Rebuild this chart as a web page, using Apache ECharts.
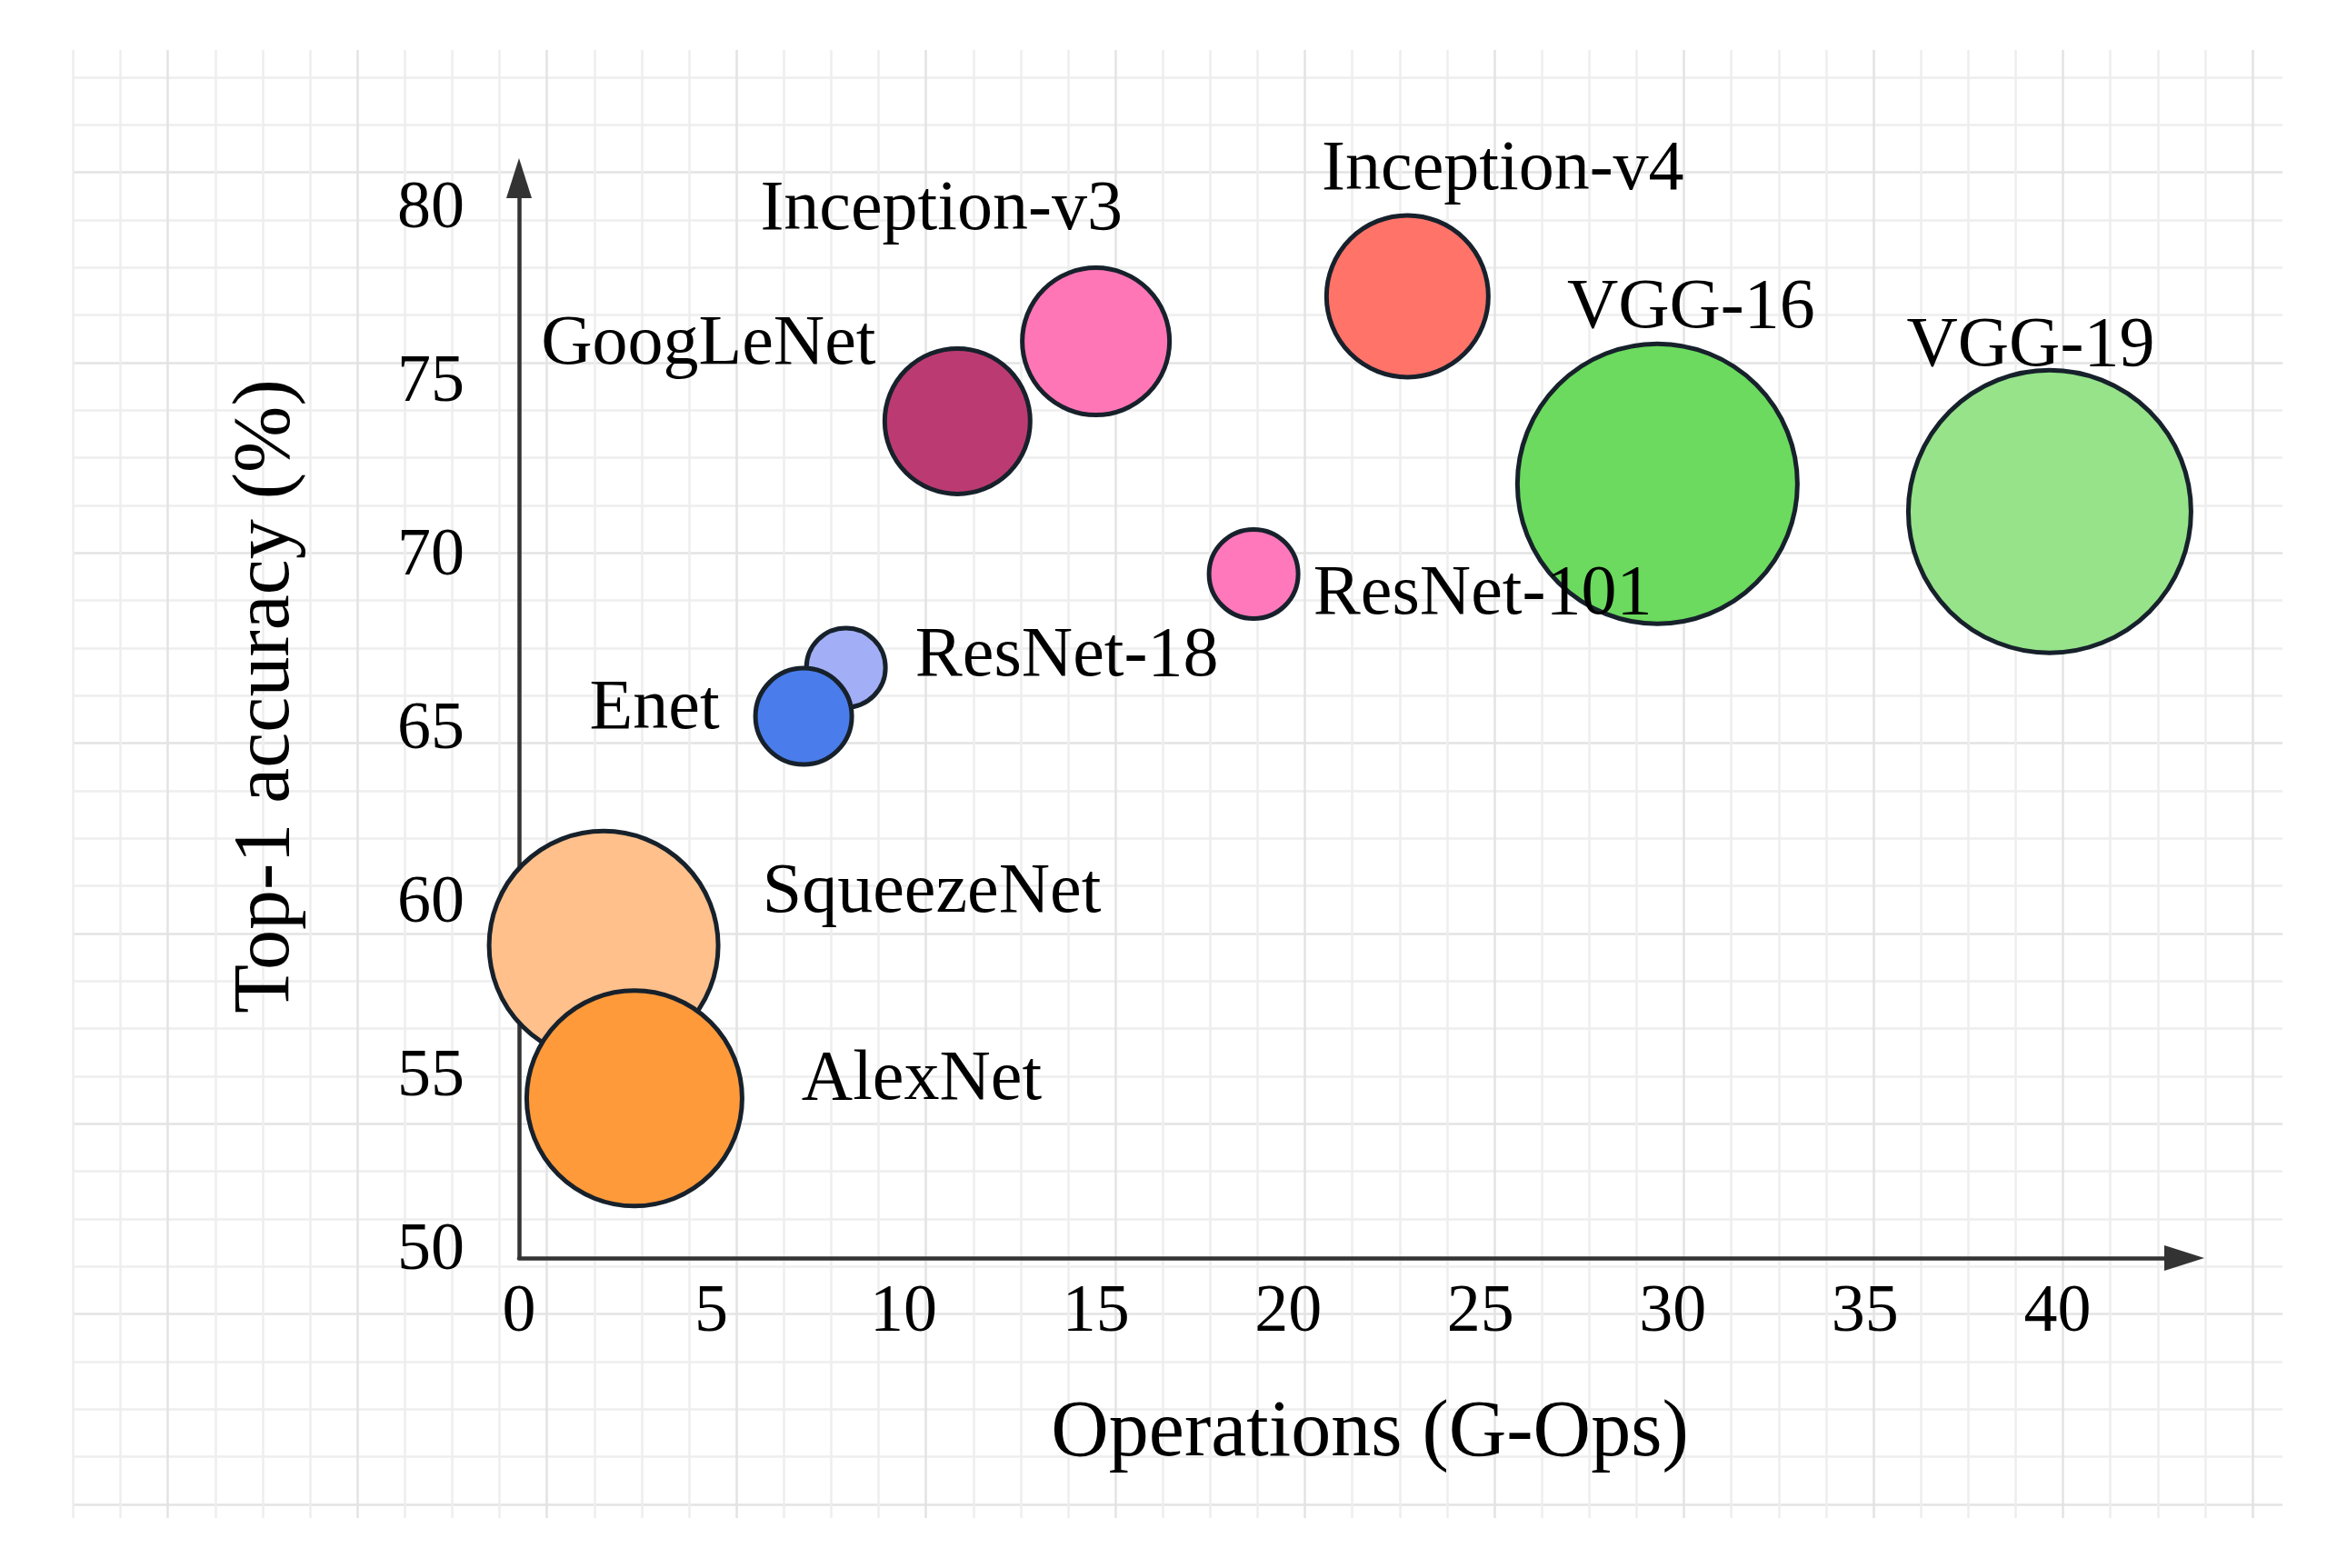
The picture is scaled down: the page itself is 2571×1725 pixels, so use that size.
<!DOCTYPE html>
<html><head><meta charset="utf-8">
<script src="https://cdn.jsdelivr.net/npm/echarts@6/dist/echarts.min.js"></script>
<style>html,body{margin:0;padding:0;background:#fff}#c{width:2571px;height:1725px}</style>
</head><body><div id="c"></div>
<script>
// ---- data ----
const models = ['SqueezeNet','AlexNet','ResNet-18','Enet','GoogLeNet','Inception-v3','ResNet-101','Inception-v4','VGG-16','VGG-19'];
const ops    = [2.2, 3.0, 8.5, 7.4, 11.4, 15.0, 19.1, 23.1, 29.6, 39.8];      // G-Ops
const top1   = [58.8, 54.4, 66.8, 65.4, 73.9, 76.2, 69.5, 77.5, 72.1, 71.3];  // %
const bubble = [25.2, 23.7, 8.7, 10.6, 16.0, 16.2, 9.8, 17.8, 30.8, 31.1];    // relative bubble size
const xTicks = [0, 5, 10, 15, 20, 25, 30, 35, 40];
const yTicks = [50, 55, 60, 65, 70, 75, 80];

// ---- styles ----
const FONT = "'Liberation Serif','Times New Roman',serif";
const fillColors = {
  'SqueezeNet':'#FFC08C','AlexNet':'#FF9A3A','ResNet-18':'#A2AEF5','Enet':'#4A7DEB',
  'GoogLeNet':'#BC3A72','Inception-v3':'#FF76B6','ResNet-101':'#FF78BC',
  'Inception-v4':'#FF7369','VGG-16':'#6BDA5E','VGG-19':'#96E38A'
};
const labelOffsets = {
  'SqueezeNet':[361,-58],'AlexNet':[316,-20],'ResNet-18':[243,-12],'Enet':[-164,-8],
  'GoogLeNet':[-274,-84],'Inception-v3':[-170,-144],'ResNet-101':[252,23],
  'Inception-v4':[105,-138],'VGG-16':[37,-193],'VGG-19':[-21,-181]
};
const SIZE_SCALE = 10;

const data = models.map((m, i) => ({
  name: m,
  value: [ops[i], top1[i], bubble[i]],
  itemStyle: { color: fillColors[m] },
  label: { offset: labelOffsets[m] }
}));

const gridMinor = '#eeeeee', gridMajor = '#e3e3e3';

const chart = echarts.init(document.getElementById('c'), null, {renderer:'canvas'});
chart.setOption({
  backgroundColor: '#ffffff',
  animation: false,
  grid: [
    { left: 571, top: 196, width: 1832, height: 1188 },
    { left: 80.5, top: 55, width: 2397.5, height: 1615 },
    { left: 80, top: 85, width: 2431, height: 1570 }
  ],
  xAxis: [
    {
      gridIndex: 0, type: 'value', min: 0, max: 43.3,
      axisLine: { onZero: false, symbol: ['none','triangle'], symbolSize: [28, 44],
                  lineStyle: { color: '#333333', width: 4.5 } },
      axisTick: { show: false },
      splitLine: { show: false },
      axisLabel: { customValues: xTicks, margin: 24, fontSize: 74, color: '#000', fontFamily: FONT },
      name: 'Operations (G-Ops)', nameLocation: 'middle', nameGap: 150,
      nameTextStyle: { fontSize: 88, color: '#000', fontFamily: FONT, padding: [0,0,0,40] }
    },
    {
      gridIndex: 1, type: 'value', min: 0, max: 46, interval: 1,
      axisLine: { show: false }, axisTick: { show: false }, axisLabel: { show: false },
      splitLine: { show: true, lineStyle: { width: 2.5,
        color: [gridMinor, gridMinor, gridMajor, gridMinor] } }
    },
    { gridIndex: 2, type: 'value', show: false, min: 0, max: 1 }
  ],
  yAxis: [
    {
      gridIndex: 0, type: 'value', min: 49.8, max: 80.9,
      axisLine: { onZero: false, symbol: ['none','triangle'], symbolSize: [28, 44],
                  lineStyle: { color: '#333333', width: 4.5 } },
      axisTick: { show: false },
      splitLine: { show: false },
      axisLabel: { customValues: yTicks, margin: 60, fontSize: 74, color: '#000', fontFamily: FONT },
      name: 'Top-1 accuracy (%)', nameLocation: 'middle', nameGap: 233,
      nameTextStyle: { fontSize: 88, color: '#000', fontFamily: FONT, padding: [0,0,0,48] }
    },
    { gridIndex: 1, type: 'value', show: false, min: 0, max: 1 },
    {
      gridIndex: 2, type: 'value', min: 0, max: 30, interval: 1, inverse: true,
      axisLine: { show: false }, axisTick: { show: false }, axisLabel: { show: false },
      splitLine: { show: true, lineStyle: { width: 2.5,
        color: [gridMinor, gridMinor, gridMajor, gridMinor] } }
    }
  ],
  series: [{
    type: 'scatter',
    xAxisIndex: 0, yAxisIndex: 0,
    symbol: 'circle',
    symbolSize: v => v[2] * SIZE_SCALE,
    itemStyle: { borderColor: '#17212B', borderWidth: 5, opacity: 1 },
    label: {
      show: true, position: 'inside', formatter: p => p.name,
      align: 'center', verticalAlign: 'middle',
      fontSize: 78, color: '#000', fontFamily: FONT
    },
    emphasis: { disabled: true },
    data: data
  }]
});
</script>
</body></html>
